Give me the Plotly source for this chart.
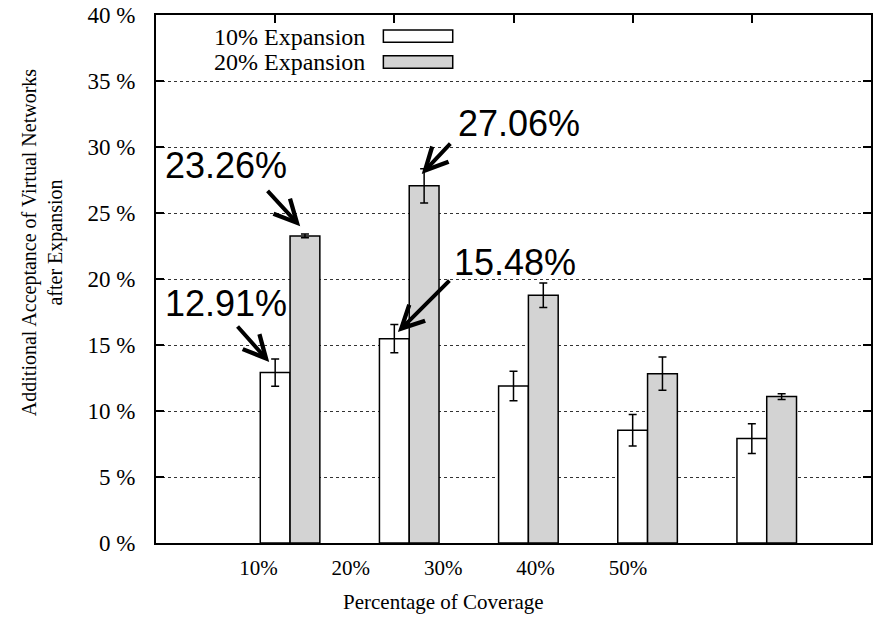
import plotly.graph_objects as go

categories = ["10%", "20%", "30%", "40%", "50%"]
series_names = ["10% Expansion", "20% Expansion"]
exp10_values = [12.91, 15.48, 11.89, 8.54, 7.91]
exp10_errors = [1.03, 1.07, 1.12, 1.20, 1.13]
exp20_values = [23.26, 27.06, 18.77, 12.83, 11.09]
exp20_errors = [0.14, 1.30, 0.93, 1.26, 0.22]
y_ticks = [0, 5, 10, 15, 20, 25, 30, 35, 40]
y_tick_text = [f"{v} %" for v in y_ticks]

SERIF = "Liberation Serif, Times New Roman, serif"
SANS = "Liberation Sans, Arial, sans-serif"
GRAY = "#d3d3d3"

idx = list(range(len(categories)))
BW = 0.25

fig = go.Figure()
fig.add_trace(go.Bar(
    x=idx, y=exp10_values, width=BW, offset=-BW / 2,
    marker=dict(color="white", line=dict(color="black", width=1.5)),
    error_y=dict(type="data", array=exp10_errors, color="black", thickness=1.5, width=4),
    name=series_names[0], showlegend=False))
fig.add_trace(go.Bar(
    x=idx, y=exp20_values, width=BW, offset=BW / 2,
    marker=dict(color=GRAY, line=dict(color="black", width=1.5)),
    error_y=dict(type="data", array=exp20_errors, color="black", thickness=1.5, width=4),
    name=series_names[1], showlegend=False))
# invisible trace to carry the top (mirrored) tick axis
fig.add_trace(go.Scatter(x=idx, y=exp10_values, xaxis="x2", mode="markers",
                         marker=dict(opacity=0), showlegend=False, hoverinfo="skip"))

# tick label positions (labels in the original are shifted from bar clusters)
label_pos = [0.775 * i - 0.14 for i in idx]

fig.update_layout(
    width=873, height=618,
    margin=dict(l=156, r=2, t=15, b=75, autoexpand=False),
    paper_bgcolor="white", plot_bgcolor="white",
    barmode="overlay",
    font=dict(family=SERIF, size=20, color="black"),
    xaxis=dict(range=[-1, 5], tickmode="array", tickvals=label_pos, ticktext=categories,
               ticks="", showgrid=False, zeroline=False, automargin=False,
               showline=True, linecolor="black", linewidth=2, mirror=True,
               tickfont=dict(family=SERIF, size=21), ticklabelstandoff=5),
    xaxis2=dict(range=[-1, 5], overlaying="x", side="top", tickmode="array", tickvals=idx,
                ticks="inside", ticklen=8, tickwidth=1.5, tickcolor="black", automargin=False,
                showticklabels=False, showgrid=False, zeroline=False, showline=False),
    yaxis=dict(range=[0, 40], tickmode="array", tickvals=y_ticks, ticktext=y_tick_text,
               ticks="inside", ticklen=8, tickwidth=1.5, tickcolor="black",
               showgrid=True, gridcolor="#333333", griddash="dot", gridwidth=1,
               zeroline=False, showline=True, linecolor="black", linewidth=2, mirror="ticks",
               tickfont=dict(family=SERIF, size=23), ticklabelstandoff=14,
               ticklabeloverflow="allow", automargin=False),
)

annotations = []
# axis titles
annotations.append(dict(text="Percentage of Coverage", xref="x", yref="paper",
                        x=label_pos[2], y=-0.112, showarrow=False,
                        font=dict(family=SERIF, size=21), xanchor="center", yanchor="middle"))
annotations.append(dict(text="Additional Acceptance of Virtual Networks<br>after Expansion",
                        xref="paper", yref="paper", x=-0.1594, y=0.568, textangle=-90,
                        showarrow=False, font=dict(family=SERIF, size=20),
                        xanchor="center", yanchor="middle"))

# value call-outs: (text, text_x, text_y, tip_x, tip_y, ax, ay)
callouts = [
    ("12.91%", -0.41, 18.15, 0 - 0.05, exp10_values[0] + 0.8, -33, -37),
    ("23.26%", -0.41, 28.6, 0 + 0.21, exp20_values[0] + 0.73, -34, -37),
    ("27.06%", 2.05, 31.76, 1 + 0.23, exp20_values[1] + 0.89, 30, -32),
    ("15.48%", 2.01, 21.25, 1 + 0.03, exp10_values[1] + 0.5, 53, -53),
]
for txt, tx, ty, px, py, ax, ay in callouts:
    annotations.append(dict(text=txt, xref="x", yref="y", x=tx, y=ty, showarrow=False,
                            font=dict(family=SANS, size=36, color="black"),
                            xanchor="center", yanchor="middle"))
    annotations.append(dict(text="", xref="x", yref="y", x=px, y=py, ax=ax, ay=ay,
                            showarrow=True, arrowhead=5, arrowsize=1.1, arrowwidth=4,
                            arrowcolor="black", standoff=0))

# manual legend (text to the left of the sample box)
legend_rows = [(series_names[0], "white", 0.958, 0.9716, 0.9483),
               (series_names[1], GRAY, 0.911, 0.9229, 0.899)]
shapes = []
for name, col, yc, y1, y0 in legend_rows:
    annotations.append(dict(text=name, xref="paper", yref="paper", x=0.2947, y=yc,
                            xanchor="right", yanchor="middle", showarrow=False,
                            font=dict(family=SERIF, size=24)))
    shapes.append(dict(type="rect", xref="paper", yref="paper", x0=0.318, x1=0.415,
                       y0=y0, y1=y1, fillcolor=col, line=dict(color="black", width=1.5)))

fig.update_layout(annotations=annotations, shapes=shapes)
fig.write_html("out.html", config={"displayModeBar": False},
               post_script="document.body.style.margin='0';")
